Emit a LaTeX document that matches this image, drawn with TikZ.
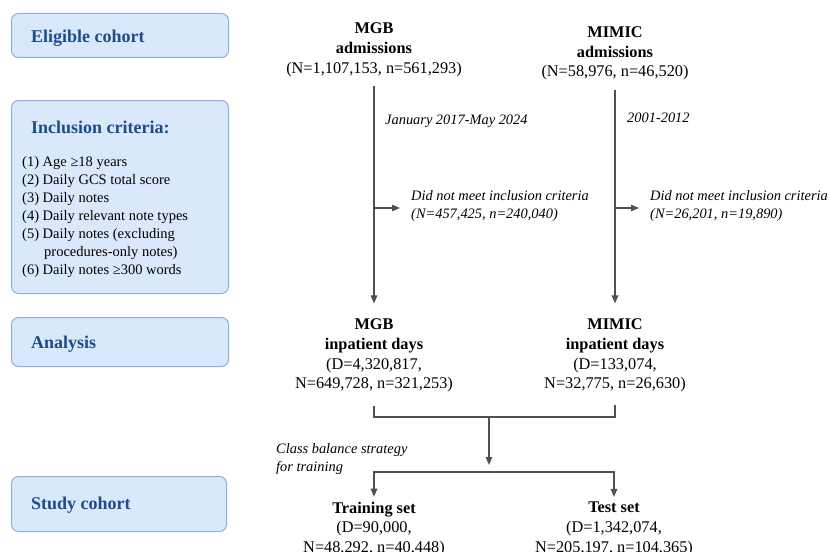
\documentclass[tikz,border=0pt]{standalone}
\usepackage{fontspec}
\setmainfont{Liberation Serif}
\usetikzlibrary{arrows.meta,calc}
\definecolor{boxfill}{HTML}{DAE8FC}
\definecolor{boxline}{HTML}{8DB0E0}
\definecolor{headblue}{HTML}{1C4C8C}
\definecolor{linegray}{HTML}{505050}
\begin{document}
\begin{tikzpicture}[x=1pt,y=-1pt,
  stage/.style={draw=boxline, fill=boxfill, rounded corners=7pt, line width=1pt, inner sep=0pt, anchor=north west},
  head/.style={anchor=base west, inner sep=0pt, text=headblue, font=\fontsize{18}{22}\selectfont\bfseries},
  flow/.style={align=center, inner sep=0pt, font=\fontsize{16.3}{19.8}\selectfont},
  note/.style={anchor=west, align=left, inner sep=0pt, font=\fontsize{14.4}{18}\selectfont\itshape},
  crit/.style={anchor=base west, align=left, inner sep=0pt, font=\fontsize{14.5}{18}\selectfont},
  arr/.style={draw=linegray, line width=1.2pt, -{Triangle[length=8pt,width=6.5pt]}},
  conn/.style={draw=linegray, line width=1.2pt}]
\useasboundingbox (0,0) rectangle (829,551);

% stage boxes
\node[stage, minimum width=217pt, minimum height=44pt] (b1) at (11,13) {};
\node[stage, minimum width=217pt, minimum height=193pt] (b2) at (11,100) {};
\node[stage, minimum width=217pt, minimum height=49pt] (b3) at (11,317) {};
\node[stage, minimum width=215pt, minimum height=55pt] (b4) at (11,476) {};

\node[head] (h1) at (31,42) {Eligible cohort};
\node[head] (h2) at (31,133) {Inclusion criteria:};
\node[head] (h3) at (31,348) {Analysis};
\node[head] (h4) at (31,509) {Study cohort};

% base anchor of a multi-line node is the baseline of its last line
\node[crit] (list) at (22,274) {(1) Age ≥18 years\\(2) Daily GCS total score\\(3) Daily notes\\(4) Daily relevant note types\\(5) Daily notes (excluding\\\hspace*{22pt}procedures-only notes)\\(6) Daily notes ≥300 words};

% flow nodes
\node[flow] (mgbadm) at (374,50) {\textbf{MGB}\\\textbf{admissions}\\(N=1,107,153, n=561,293)};
\node[flow] (mimicadm) at (615,53.5) {\textbf{MIMIC}\\\textbf{admissions}\\(N=58,976, n=46,520)};
\node[flow] (mgbdays) at (374,355.5) {\textbf{MGB}\\\textbf{inpatient days}\\(D=4,320,817,\\N=649,728, n=321,253)};
\node[flow] (mimicdays) at (615,355.5) {\textbf{MIMIC}\\\textbf{inpatient days}\\(D=133,074,\\N=32,775, n=26,630)};
\node[flow] (train) at (374,529) {\textbf{Training set}\\(D=90,000,\\N=48,292, n=40,448)};
\node[flow] (test) at (614,529) {\textbf{Test set}\\(D=1,342,074,\\N=205,197, n=104,365)};

% notes
\node[note] (date1) at (385,121) {January 2017-May 2024};
\node[note] (date2) at (627,118) {2001-2012};
\node[note] (excl1) at (411,206) {Did not meet inclusion criteria\\(N=457,425, n=240,040)};
\node[note] (excl2) at (650,206) {Did not meet inclusion criteria\\(N=26,201, n=19,890)};
\node[note] (bal) at (276,459) {Class balance strategy\\for training};

% connectors
\draw[arr, shorten <=9pt, shorten >=15pt] (mgbadm.south) -- (mgbdays.north);
\draw[arr, shorten <=9pt, shorten >=15pt] (mimicadm.south) -- (mimicdays.north);

\coordinate (j1) at (374,208);
\coordinate (j2) at (615,208);
\draw[arr, shorten >=11pt] (j1) -- (j1 -| excl1.west);
\draw[arr, shorten >=11pt] (j2) -- (j2 -| excl2.west);

\coordinate (mrg) at (489,417);
\coordinate (splt) at (489,472);
\draw[conn, shorten <=13pt, shorten >=12pt] (mgbdays.south) |- (mrg) -| (mimicdays.south);
\draw[arr, shorten >=7pt] (mrg) -- (splt);
\draw[arr, shorten >=5pt] (splt) -| (train.north);
\draw[arr, shorten >=5pt] (splt) -| (test.north);
\end{tikzpicture}
\end{document}
